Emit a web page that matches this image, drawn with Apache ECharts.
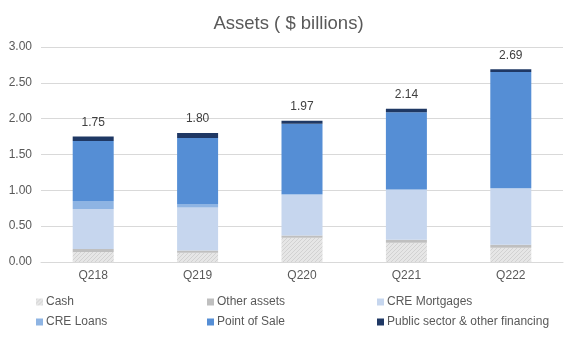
<!DOCTYPE html>
<html>
<head>
<meta charset="utf-8">
<script src="https://cdn.jsdelivr.net/npm/echarts@6/dist/echarts.min.js"></script>
<style>html,body{margin:0;padding:0;background:#fff}#c{width:577px;height:338px}</style>
</head>
<body>
<div id="c"></div>
<script>
var categories = ["Q218", "Q219", "Q220", "Q221", "Q222"];
var cash = [0.14, 0.13, 0.34, 0.27, 0.20];
var otherAssets = [0.04, 0.03, 0.03, 0.04, 0.04];
var creMortgages = [0.56, 0.60, 0.57, 0.70, 0.79];
var creLoans = [0.11, 0.05, 0.01, 0.00, 0.00];
var pointOfSale = [0.84, 0.92, 0.98, 1.08, 1.62];
var publicSector = [0.06, 0.07, 0.04, 0.05, 0.04];
var totals = [1.75, 1.80, 1.97, 2.14, 2.69];
var yTicks = [0, 0.5, 1.0, 1.5, 2.0, 2.5, 3.0];

var FONT = '"Liberation Sans", Arial, sans-serif';
var TXT = '#595959';
var chart = echarts.init(document.getElementById('c'), null, {renderer: 'canvas'});

function s(name, data, color, extra) {
  var o = {name: name, type: 'bar', stack: 'a', data: data, barWidth: 41,
    itemStyle: {color: color}, emphasis: {disabled: true}};
  if (extra) for (var k in extra) o[k] = extra[k];
  return o;
}
var legendBase = {orient: 'vertical', top: 296, itemWidth: 7, itemHeight: 7, itemGap: 8,
  icon: 'rect', padding: 0, textStyle: {fontFamily: FONT, fontSize: 12, color: TXT, padding: [0,0,0,-2]}};

chart.setOption({
  animation: false,
  title: {text: 'Assets ( $ billions)', left: 'center', top: 9,
    textStyle: {fontFamily: FONT, fontSize: 18.5, fontWeight: 'normal', color: TXT}},
  grid: {left: 41, right: 14, top: 47, bottom: 76},
  legend: [
    Object.assign({}, legendBase, {left: 36, data: ['Cash', 'CRE Loans']}),
    Object.assign({}, legendBase, {left: 207, data: ['Other assets', 'Point of Sale']}),
    Object.assign({}, legendBase, {left: 377, data: ['CRE Mortgages', 'Public sector & other financing']})
  ],
  xAxis: {type: 'category', data: categories,
    axisLine: {lineStyle: {color: '#d9d9d9'}}, axisTick: {show: false},
    axisLabel: {fontFamily: FONT, fontSize: 12, color: TXT, margin: 8}},
  yAxis: {type: 'value', min: 0, max: 3, interval: 0.5,
    axisLine: {show: false}, axisTick: {show: false},
    splitLine: {lineStyle: {color: '#d9d9d9'}},
    axisLabel: {fontFamily: FONT, fontSize: 12, color: TXT, margin: 9,
      formatter: function (v) { return yTicks.indexOf(v) >= 0 ? v.toFixed(2) : ''; }}},
  series: [
    s('Cash', cash, {type: 'pattern', image: (function(){
        var c = document.createElement('canvas'); c.width = 4; c.height = 4;
        var g = c.getContext('2d'); g.fillStyle = '#e6e6e6'; g.fillRect(0,0,4,4);
        g.fillStyle = '#d2d2d2'; g.fillRect(0,0,1,1); g.fillRect(2,2,1,1); g.fillRect(1,3,1,1); g.fillRect(3,1,1,1);
        return c; })(), repeat: 'repeat'}),
    s('Other assets', otherAssets, '#bfbfbf'),
    s('CRE Mortgages', creMortgages, '#c6d6ee'),
    s('CRE Loans', creLoans, '#8eb4e3'),
    s('Point of Sale', pointOfSale, '#558ed5'),
    s('Public sector & other financing', publicSector, '#1f3864', {
      label: {show: true, position: 'top', distance: 8, fontFamily: FONT, fontSize: 12, color: '#404040',
        formatter: function (p) { return totals[p.dataIndex].toFixed(2); }}})
  ]
});
</script>
</body>
</html>
